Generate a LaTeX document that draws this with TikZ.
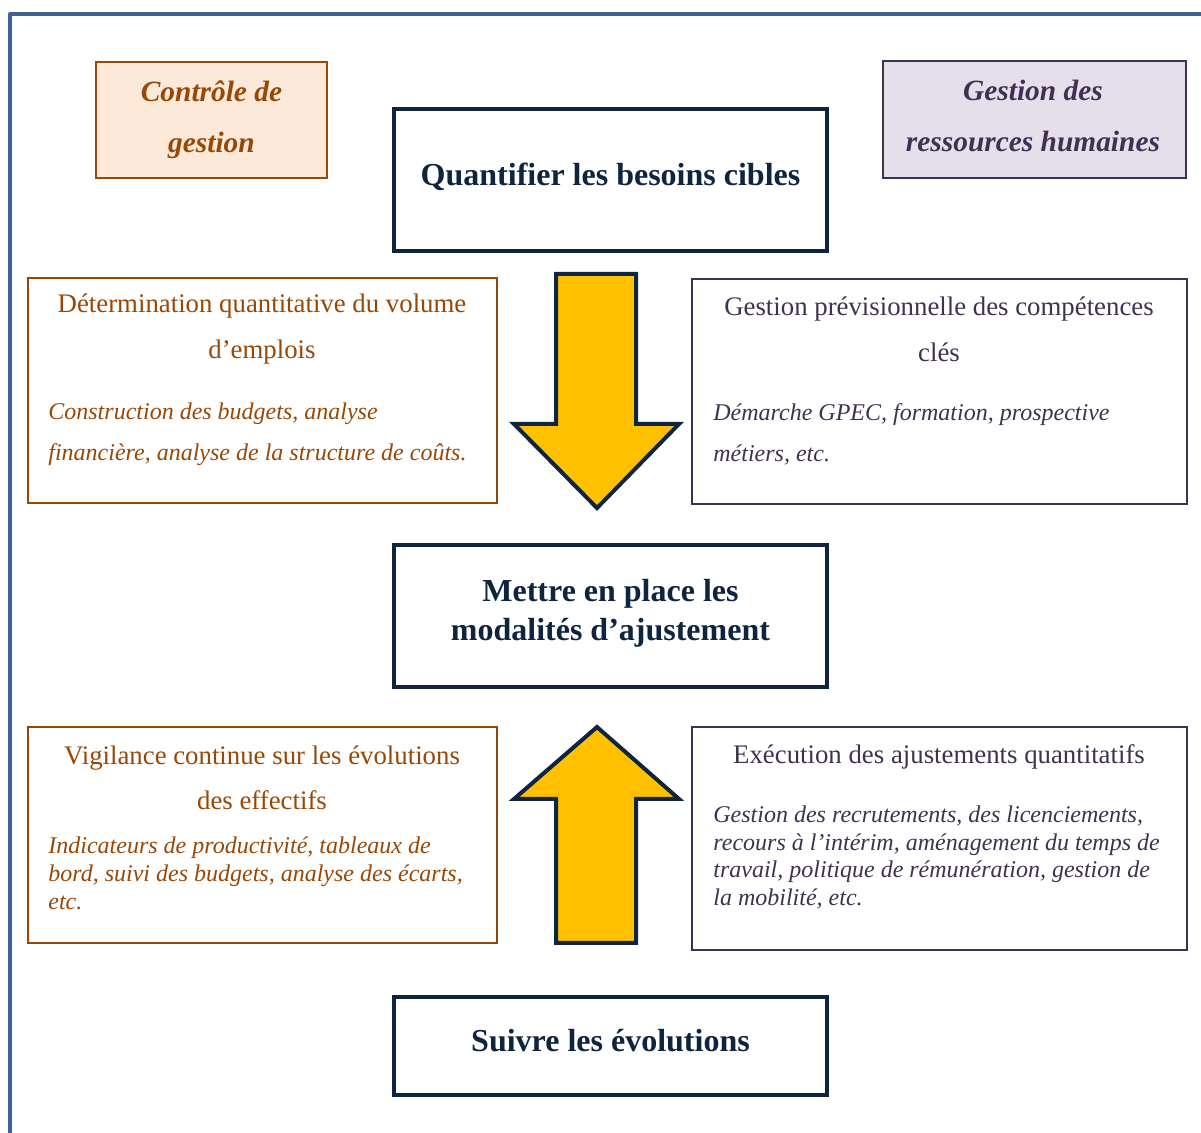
\documentclass[tikz,border=0pt]{standalone}
\usepackage{fontspec}
\setmainfont{Liberation Serif}
\usepackage{xcolor}
\usetikzlibrary{positioning}
\definecolor{framec}{RGB}{62,98,145}
\definecolor{navyc}{RGB}{15,36,62}
\definecolor{brownc}{RGB}{152,72,6}
\definecolor{peachc}{RGB}{253,233,217}
\definecolor{purplec}{RGB}{63,49,81}
\definecolor{lavc}{RGB}{229,223,236}
\definecolor{goldc}{RGB}{255,192,0}

\begin{document}
\begin{tikzpicture}[x=0.5pt,y=-0.5pt,
  stepbox/.style={draw=navyc,line width=2pt,minimum width=216.5pt,minimum height=71pt},
  steptxt/.style={inner sep=0pt,text=navyc,align=center,font=\bfseries\fontsize{16}{19.5}\selectfont},
  brownbox/.style={draw=brownc,line width=1.2pt,minimum width=234.5pt},
  purplebox/.style={draw=purplec,line width=1.2pt,minimum width=247.5pt},
  headtxt/.style={inner sep=0pt,align=center,font=\bfseries\itshape\fontsize{14.7}{25.5}\selectfont},
  titletxt/.style={inner sep=0pt,align=center,font=\fontsize{13.4}{23}\selectfont},
  ittxt/.style={inner sep=0pt,anchor=west,align=left,font=\itshape\fontsize{12}{14}\selectfont},
  bigarrow/.style={fill=goldc,draw=navyc,line width=2pt}]
\useasboundingbox (0,0) rectangle (1201,1133);
% outer frame
\draw[framec,line width=2pt,line join=round] (1220,14)--(10,14)--(10,1150);
% headings
\node[draw=brownc,fill=peachc,line width=1.2pt,minimum width=115.5pt,minimum height=58pt] (cdg) at (211.5,120) {};
\node[headtxt,text=brownc] (cdgt) at (211.5,119.5) {Contrôle de\\gestion};
\node[draw=purplec,fill=lavc,line width=1.2pt,minimum width=151.5pt,minimum height=58.5pt] (grh) at (1034.5,119.5) {};
\node[headtxt,text=purplec] (grht) at (1033,116) {Gestion des\\ressources humaines};
% steps
\node[stepbox] (quant) at (610.5,180) {};
\node[steptxt] (quantt) at (610.5,177) {Quantifier les besoins cibles};
\node[stepbox] (mettre) at (610.5,616) {};
\node[steptxt] (mettret) at (610.5,613) {Mettre en place les\\modalités d’ajustement};
\node[stepbox,minimum height=49pt] (suivre) at (610.5,1046) {};
\node[steptxt] (suivret) at (610.5,1041) {Suivre les évolutions};
% upper side boxes
\node[brownbox,minimum height=112.5pt] (vol) at (262.5,390.5) {};
\node[titletxt,text=brownc] (volt) at (262,329.5) {Détermination quantitative du volume\\d’emplois};
\node[ittxt,text=brownc,font=\itshape\fontsize{12}{20.5}\selectfont] (voli) at (48,434) {Construction des budgets, analyse\\financière, analyse de la structure de coûts.};
\node[purplebox,minimum height=112.5pt] (gpc) at (939.5,391.5) {};
\node[titletxt,text=purplec] (gpct) at (939,329) {Gestion prévisionnelle des compétences\\clés};
\node[ittxt,text=purplec,font=\itshape\fontsize{12}{20.5}\selectfont] (gpci) at (713,434) {Démarche GPEC, formation, prospective\\métiers, etc.};
% lower side boxes
\node[brownbox,minimum height=108pt] (vig) at (262.5,835) {};
\node[titletxt,text=brownc,font=\fontsize{13.4}{22.5}\selectfont] (vigt) at (262,777.5) {Vigilance continue sur les évolutions\\des effectifs};
\node[ittxt,text=brownc] (vigi) at (48,873) {Indicateurs de productivité, tableaux de\\bord, suivi des budgets, analyse des écarts,\\etc.};
\node[purplebox,minimum height=111.5pt] (exe) at (939.5,838.5) {};
\node[titletxt,text=purplec] (exet) at (939,756.5) {Exécution des ajustements quantitatifs};
\node[ittxt,text=purplec,font=\itshape\fontsize{12}{13.9}\selectfont] (exei) at (713,857.5) {Gestion des recrutements, des licenciements,\\recours à l’intérim, aménagement du temps de\\travail, politique de rémunération, gestion de\\la mobilité, etc.};
% arrows
\draw[bigarrow] (556,274)--(636,274)--(636,424)--(679,424)--(597,508)--(514,424)--(556,424)--cycle;
\draw[bigarrow] (556,943)--(636,943)--(636,799)--(679,799)--(597,727)--(514,799)--(556,799)--cycle;
\end{tikzpicture}
\end{document}
